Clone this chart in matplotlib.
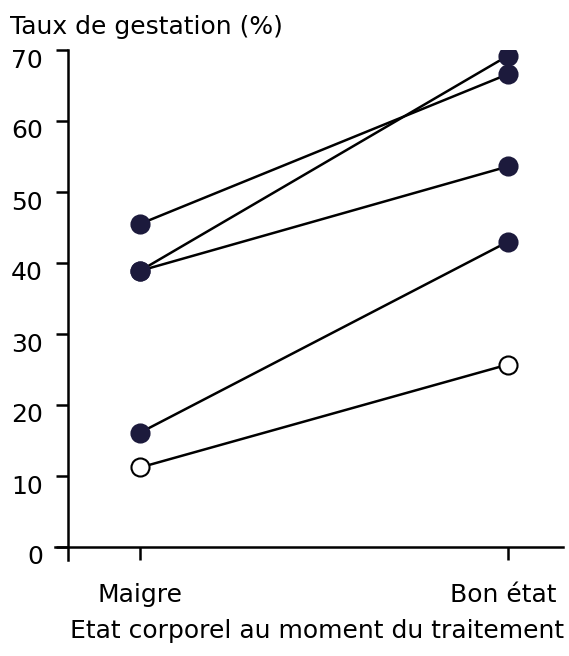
import matplotlib
matplotlib.use("Agg")
import matplotlib.pyplot as plt
from matplotlib.transforms import ScaledTranslation

# data
categories = ["Maigre", "Bon état"]
maigre = [45.5, 38.9, 38.9, 16.1, 11.2]
bon_etat = [66.6, 69.2, 53.6, 43.0, 25.7]
filled = [True, True, True, True, False]
y_ticks = [0, 10, 20, 30, 40, 50, 60, 70]

fig = plt.figure(figsize=(5.69, 6.56), dpi=100)
ax = fig.add_axes([68 / 569, 109 / 656, 495 / 569, 497 / 656])

ink = "#1c1a3c"
xpos = [0, 1]
for a, b, f in zip(maigre, bon_etat, filled):
    ax.plot(xpos, [a, b], color="black", lw=1.8, zorder=2)
    ax.plot(xpos, [a, b], linestyle="none", marker="o", ms=13,
            mfc=ink if f else "white", mec=ink if f else "black",
            mew=1.5, zorder=3)

ax.set_xlim(-0.1957, 1.1495)
ax.set_ylim(0, 70)
ax.set_yticks(y_ticks)
ax.set_xticks(xpos)
ax.set_xticklabels(categories)

for s in ["top", "right"]:
    ax.spines[s].set_visible(False)
for s in ["left", "bottom"]:
    ax.spines[s].set_linewidth(1.8)
    ax.spines[s].set_color("black")
ax.spines["left"].set_bounds(-1.8, 70)
ax.spines["bottom"].set_bounds(-0.231, 1.1495)

ax.tick_params(axis="both", direction="out", length=9, width=1.8,
               labelsize=18, colors="black")
ax.tick_params(axis="y", pad=9)
ax.tick_params(axis="x", pad=17)

# labels sit a little below their ticks in the original
for lab in ax.get_yticklabels():
    lab.set_transform(lab.get_transform() + ScaledTranslation(0, -0.08, fig.dpi_scale_trans))
# "Bon état" is drawn a bit left of its tick
ax.get_xticklabels()[1].set_transform(
    ax.get_xticklabels()[1].get_transform() + ScaledTranslation(-0.05, 0, fig.dpi_scale_trans))

fig.text(10 / 569, 1 - 27 / 656, "Taux de gestation (%)", fontsize=18,
         va="center", ha="left")
fig.text(317 / 569, 1 - 631 / 656, "Etat corporel au moment du traitement",
         fontsize=18, va="center", ha="center")

fig.savefig("out.png", dpi=100)
